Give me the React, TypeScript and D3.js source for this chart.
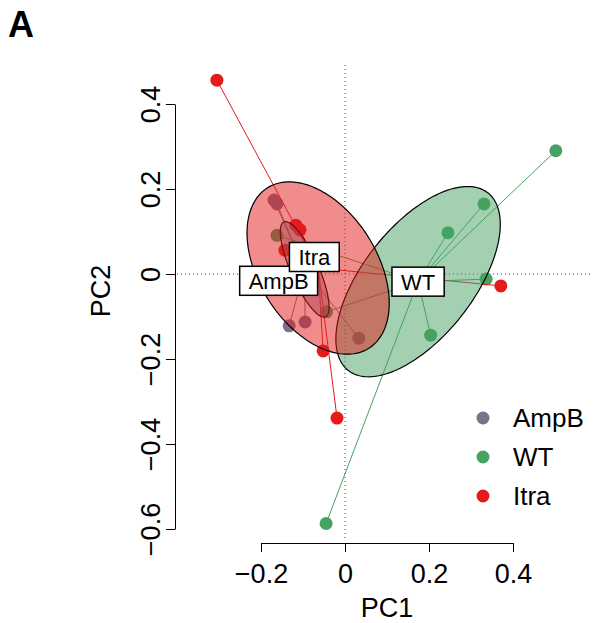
import React, { useEffect, useRef } from 'react';
import * as d3 from 'd3';

// groups, in drawing order (ellipses are layered AmpB -> WT -> Itra)
const groups = ['AmpB', 'WT', 'Itra'];
const groupColors = ['#7b7189', '#45a261', '#e41a1c'];

// sample scores
const ampbPC1 = [-0.169, -0.162, -0.133, -0.095, 0.033];
const ampbPC2 = [0.174, 0.165, -0.122, -0.113, -0.151];
const wtPC1 = [0.502, 0.331, 0.245, 0.336, 0.204, -0.045, -0.162, -0.044];
const wtPC2 = [0.29, 0.165, 0.097, -0.012, -0.144, -0.587, 0.091, -0.089];
const itraPC1 = [-0.305, -0.117, -0.107, -0.143, -0.052, -0.019, 0.371];
const itraPC2 = [0.456, 0.115, 0.104, 0.056, -0.181, -0.339, -0.028];

// group centroids (spider hubs / ellipse centres) and label positions
const centerPC1 = [-0.096, 0.174, -0.064];
const centerPC2 = [0.011, -0.018, 0.014];
const labelPC1 = [-0.158, 0.174, -0.073];
const labelPC2 = [-0.016, -0.018, 0.04];

// dispersion ellipses: semi axes and rotation (degrees)
const ellipseMajor = [0.122, 0.267, 0.224];
const ellipseMinor = [0.033, 0.131, 0.14];
const ellipseAngle = [-66, 51.3, -57];

const xTicks = [-0.2, 0, 0.2, 0.4];
const yTicks = [-0.6, -0.4, -0.2, 0, 0.2, 0.4];

const font = '"Liberation Sans", Arial, Helvetica, sans-serif';

const PcaPlot = () => {
  const svgRef = useRef<SVGSVGElement>(null);

  useEffect(() => {
    const svg = d3.select(svgRef.current);
    svg.selectAll('*').remove();

    const x = d3.scaleLinear().domain([-0.2, 0.4]).range([261, 513]);
    const y = d3.scaleLinear().domain([-0.6, 0.4]).range([529, 104]);

    // plot region edges (R's usr box) and axis positions
    const left = 177, right = 592, top = 65, bottom = 540;
    const axisY = 543, axisX = 175;

    const pts = [
      ampbPC1.map((v, i) => [v, ampbPC2[i]]),
      wtPC1.map((v, i) => [v, wtPC2[i]]),
      itraPC1.map((v, i) => [v, itraPC2[i]]),
    ];

    // zero lines
    svg.append('line')
      .attr('x1', x(0)).attr('x2', x(0)).attr('y1', top).attr('y2', bottom)
      .attr('stroke', '#444').attr('stroke-width', 1).attr('stroke-dasharray', '1,3');
    svg.append('line')
      .attr('x1', left).attr('x2', right).attr('y1', y(0)).attr('y2', y(0))
      .attr('stroke', '#444').attr('stroke-width', 1).attr('stroke-dasharray', '1,3');

    // points
    groups.forEach((g, gi) => {
      svg.append('g').selectAll('circle')
        .data(pts[gi])
        .enter().append('circle')
        .attr('cx', d => x(d[0]))
        .attr('cy', d => y(d[1]))
        .attr('r', 6.5)
        .attr('fill', groupColors[gi]);
    });

    // spider lines to centroid
    groups.forEach((g, gi) => {
      svg.append('g').selectAll('line')
        .data(pts[gi])
        .enter().append('line')
        .attr('x1', d => x(d[0]))
        .attr('y1', d => y(d[1]))
        .attr('x2', x(centerPC1[gi]))
        .attr('y2', y(centerPC2[gi]))
        .attr('stroke', groupColors[gi])
        .attr('stroke-width', 1);
    });

    // ellipses
    const line = d3.line<number>()
      .x(t => {
        const phi = (ellipseAngle[cur] * Math.PI) / 180;
        return x(centerPC1[cur] + ellipseMajor[cur] * Math.cos(t) * Math.cos(phi) - ellipseMinor[cur] * Math.sin(t) * Math.sin(phi));
      })
      .y(t => {
        const phi = (ellipseAngle[cur] * Math.PI) / 180;
        return y(centerPC2[cur] + ellipseMajor[cur] * Math.cos(t) * Math.sin(phi) + ellipseMinor[cur] * Math.sin(t) * Math.cos(phi));
      })
      .curve(d3.curveLinearClosed);
    let cur = 0;
    const ts = d3.range(0, 2 * Math.PI, Math.PI / 90);
    groups.forEach((g, gi) => {
      cur = gi;
      svg.append('path')
        .attr('d', line(ts))
        .attr('fill', groupColors[gi])
        .attr('fill-opacity', 0.5)
        .attr('stroke', '#000')
        .attr('stroke-width', 1.2);
    });

    // centroid labels
    groups.forEach((g, gi) => {
      const lg = svg.append('g')
        .attr('transform', `translate(${x(labelPC1[gi])},${y(labelPC2[gi])})`);
      const rect = lg.append('rect').attr('fill', '#fff').attr('stroke', '#000').attr('stroke-width', 1.5);
      const txt = lg.append('text')
        .attr('text-anchor', 'middle')
        .attr('dy', '0.36em')
        .style('font-family', font)
        .style('font-size', '22px')
        .text(g);
      const w = (txt.node() as SVGTextElement).getComputedTextLength() + 18;
      rect.attr('x', -w / 2).attr('y', -14.5).attr('width', w).attr('height', 29);
    });

    // axes
    const xAxis = d3.axisBottom(x)
      .tickValues(xTicks)
      .tickFormat(d => (d === 0 ? '0' : d3.format('.1f')(d as number)))
      .tickSizeInner(9)
      .tickSizeOuter(0)
      .tickPadding(6);
    const gx = svg.append('g')
      .attr('transform', `translate(0,${axisY})`)
      .call(xAxis);
    gx.selectAll('text')
      .style('font-family', font)
      .style('font-size', '27px')
      .attr('y', 0)
      .attr('dy', 0)
      .attr('transform', 'translate(0,40)');

    const yAxis = d3.axisLeft(y)
      .tickValues(yTicks)
      .tickFormat(d => (d === 0 ? '0' : d3.format('.1f')(d as number)))
      .tickSizeInner(9)
      .tickSizeOuter(0);
    const gy = svg.append('g')
      .attr('transform', `translate(${axisX},0)`)
      .call(yAxis);
    gy.selectAll('text')
      .style('font-family', font)
      .style('font-size', '27px')
      .attr('x', 0)
      .attr('dy', 0)
      .attr('text-anchor', 'middle')
      .attr('transform', 'translate(-15,0) rotate(-90)');

    svg.selectAll('.domain').attr('stroke', '#000').attr('stroke-width', 1);
    svg.selectAll('.tick line').attr('stroke', '#000').attr('stroke-width', 1);

    svg.append('text')
      .attr('x', 387).attr('y', 617)
      .attr('text-anchor', 'middle')
      .style('font-family', font).style('font-size', '27px')
      .text('PC1');
    svg.append('text')
      .attr('transform', 'translate(110,291) rotate(-90)')
      .attr('text-anchor', 'middle')
      .style('font-family', font).style('font-size', '27px')
      .text('PC2');

    // legend
    const legend = svg.append('g').attr('transform', 'translate(483,418)');
    groups.forEach((g, gi) => {
      legend.append('circle')
        .attr('cx', 0).attr('cy', gi * 39)
        .attr('r', 6.5)
        .attr('fill', groupColors[gi]);
      legend.append('text')
        .attr('x', 30).attr('y', gi * 39)
        .attr('dy', '0.36em')
        .style('font-family', font).style('font-size', '26px')
        .text(g);
    });

    // panel letter
    svg.append('text')
      .attr('x', 8).attr('y', 37)
      .style('font-family', font).style('font-size', '36px').style('font-weight', 'bold')
      .text('A');
  }, []);

  return <svg ref={svgRef} width={599} height={623} style={{ position: 'absolute', left: 0, top: 0 }} />;
};

export default function App() {
  return <PcaPlot />;
}
